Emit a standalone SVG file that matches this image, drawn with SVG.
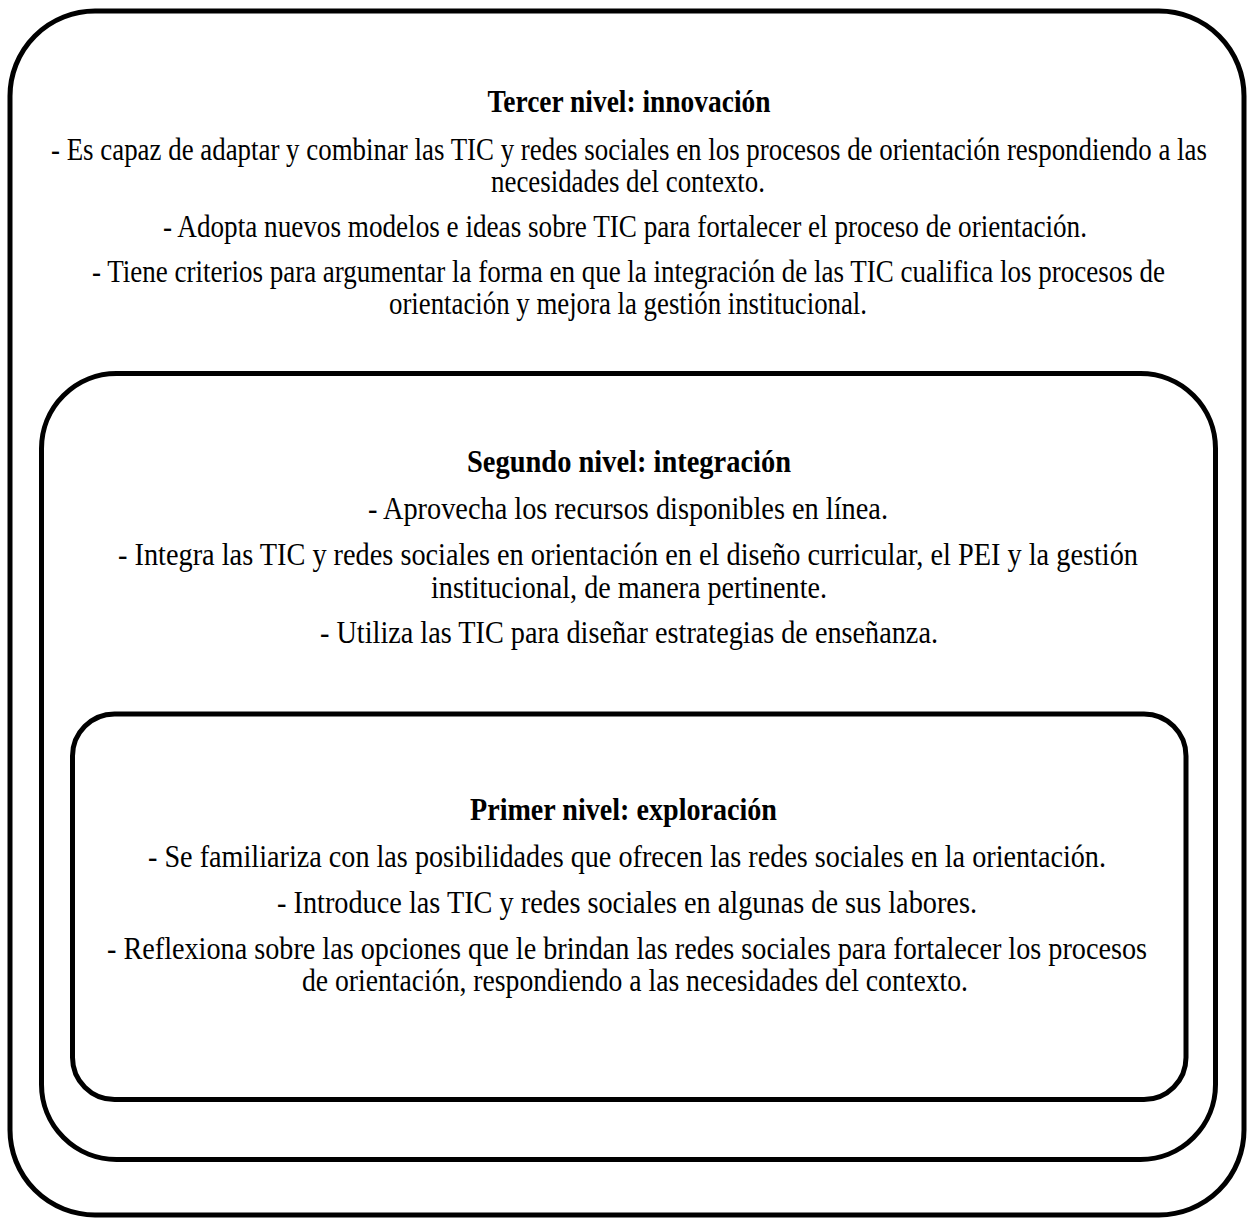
<svg xmlns="http://www.w3.org/2000/svg" width="1247" height="1219" viewBox="0 0 1247 1219">
<style>
.box{fill:none;stroke:#000;stroke-width:5}
text{font-family:"Liberation Serif","Times New Roman",serif;font-size:31px;fill:#000;text-anchor:middle}
.t{font-weight:bold}
</style>
<rect width="1247" height="1219" fill="#fff"/>
<g id="tercer">
<rect class="box" x="10" y="11" width="1234" height="1204" rx="85" ry="85"/>
<text class="t" x="629" y="112" textLength="283" lengthAdjust="spacingAndGlyphs">Tercer nivel: innovación</text>
<text x="629" y="160" textLength="1156" lengthAdjust="spacingAndGlyphs">- Es capaz de adaptar y combinar las TIC y redes sociales en los procesos de orientación respondiendo a las</text>
<text x="628" y="192" textLength="274" lengthAdjust="spacingAndGlyphs">necesidades del contexto.</text>
<text x="625" y="237" textLength="924" lengthAdjust="spacingAndGlyphs">- Adopta nuevos modelos e ideas sobre TIC para fortalecer el proceso de orientación.</text>
<text x="628.5" y="282" textLength="1073" lengthAdjust="spacingAndGlyphs">- Tiene criterios para argumentar la forma en que la integración de las TIC cualifica los procesos de</text>
<text x="628" y="314" textLength="478" lengthAdjust="spacingAndGlyphs">orientación y mejora la gestión institucional.</text>
</g>
<g id="segundo">
<rect class="box" x="41.5" y="373.5" width="1174" height="786" rx="75" ry="75"/>
<text class="t" x="629" y="472" textLength="324" lengthAdjust="spacingAndGlyphs">Segundo nivel: integración</text>
<text x="628" y="519" textLength="520" lengthAdjust="spacingAndGlyphs">- Aprovecha los recursos disponibles en línea.</text>
<text x="628" y="565" textLength="1020" lengthAdjust="spacingAndGlyphs">- Integra las TIC y redes sociales en orientación en el diseño curricular, el PEI y la gestión</text>
<text x="629" y="598" textLength="396" lengthAdjust="spacingAndGlyphs">institucional, de manera pertinente.</text>
<text x="629" y="643" textLength="618" lengthAdjust="spacingAndGlyphs">- Utiliza las TIC para diseñar estrategias de enseñanza.</text>
</g>
<g id="primer">
<rect class="box" x="72.5" y="714" width="1113.5" height="385.5" rx="42" ry="42"/>
<text class="t" x="623.5" y="820" textLength="307" lengthAdjust="spacingAndGlyphs">Primer nivel: exploración</text>
<text x="627" y="867" textLength="958" lengthAdjust="spacingAndGlyphs">- Se familiariza con las posibilidades que ofrecen las redes sociales en la orientación.</text>
<text x="627" y="913" textLength="700" lengthAdjust="spacingAndGlyphs">- Introduce las TIC y redes sociales en algunas de sus labores.</text>
<text x="627" y="959" textLength="1040" lengthAdjust="spacingAndGlyphs">- Reflexiona sobre las opciones que le brindan las redes sociales para fortalecer los procesos</text>
<text x="635" y="991" textLength="666" lengthAdjust="spacingAndGlyphs">de orientación, respondiendo a las necesidades del contexto.</text>
</g>
<g id="connectors"/>
</svg>
